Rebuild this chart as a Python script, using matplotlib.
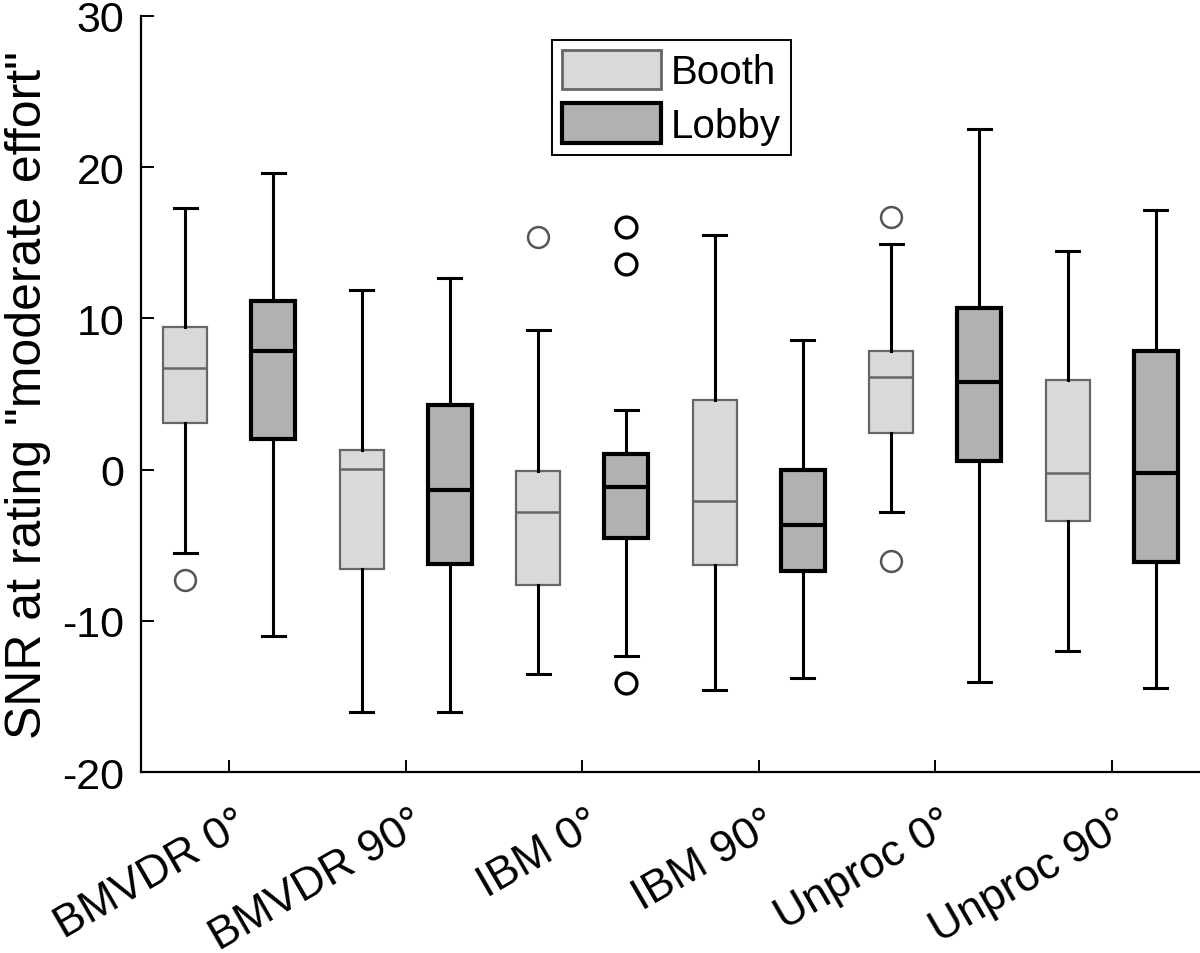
import matplotlib
matplotlib.use('Agg')
import matplotlib.pyplot as plt
import matplotlib.transforms as mtransforms
from matplotlib.patches import Patch

categories = ['BMVDR 0°', 'BMVDR 90°', 'IBM 0°', 'IBM 90°', 'Unproc 0°', 'Unproc 90°']
series = ['Booth', 'Lobby']

booth_whislo = [-5.5, -16.05, -13.55, -14.55, -2.8, -12.0]
booth_q1 = [3.1, -6.6, -7.65, -6.3, 2.4, -3.4]
booth_med = [6.7, 0.05, -2.8, -2.1, 6.15, -0.25]
booth_q3 = [9.4, 1.3, -0.1, 4.6, 7.85, 5.9]
booth_whishi = [17.3, 11.9, 9.25, 15.5, 14.9, 14.45]
booth_fliers = [[-7.3], [], [15.4], [], [16.7, -6.05], []]

lobby_whislo = [-11.0, -16.05, -12.3, -13.75, -14.05, -14.45]
lobby_q1 = [2.05, -6.25, -4.55, -6.7, 0.6, -6.1]
lobby_med = [7.85, -1.35, -1.15, -3.65, 5.8, -0.25]
lobby_q3 = [11.15, 4.25, 1.05, 0.0, 10.7, 7.85]
lobby_whishi = [19.6, 12.7, 3.95, 8.55, 22.55, 17.15]
lobby_fliers = [[], [], [16.05, 13.6, -14.1], [], [], []]

plt.rcParams['font.family'] = ['Liberation Sans', 'DejaVu Sans']
plt.rcParams['axes.unicode_minus'] = False

fig = plt.figure(figsize=(12, 9.54), dpi=100)
ax = fig.add_axes([0.1175, 0.1897, 0.8825, 0.7925])

def stats(lo, q1, med, q3, hi, fl):
    return [dict(whislo=a, q1=b, med=c, q3=d, whishi=e, fliers=f)
            for a, b, c, d, e, f in zip(lo, q1, med, q3, hi, fl)]

pos = list(range(1, len(categories) + 1))
off = 0.25
w = 0.25
cw = 0.13

booth_edge = '#666666'
booth_face = '#d9d9d9'
lobby_face = '#b1b1b1'

ax.bxp(stats(booth_whislo, booth_q1, booth_med, booth_q3, booth_whishi, booth_fliers),
       positions=[p - off for p in pos], widths=w, capwidths=cw, patch_artist=True,
       boxprops=dict(facecolor=booth_face, edgecolor=booth_edge, linewidth=1.6),
       medianprops=dict(color=booth_edge, linewidth=1.8),
       whiskerprops=dict(color='black', linewidth=2.2),
       capprops=dict(color='black', linewidth=2.2),
       flierprops=dict(marker='o', markerfacecolor='none', markeredgecolor='#555555',
                       markersize=15, markeredgewidth=1.8),
       manage_ticks=False, zorder=3)

ax.bxp(stats(lobby_whislo, lobby_q1, lobby_med, lobby_q3, lobby_whishi, lobby_fliers),
       positions=[p + off for p in pos], widths=w, capwidths=cw, patch_artist=True,
       boxprops=dict(facecolor=lobby_face, edgecolor='black', linewidth=3.0),
       medianprops=dict(color='black', linewidth=3.0),
       whiskerprops=dict(color='black', linewidth=2.2),
       capprops=dict(color='black', linewidth=2.2),
       flierprops=dict(marker='o', markerfacecolor='none', markeredgecolor='black',
                       markersize=15, markeredgewidth=2.4),
       manage_ticks=False, zorder=3)

ax.set_xlim(0.5, len(categories) + 0.5)
ax.set_ylim(-20, 30)
ax.set_yticks([-20, -10, 0, 10, 20, 30])
ax.set_xticks(pos)
ax.set_xticklabels(categories, rotation=30, ha='right', rotation_mode='anchor')

for s in ['top', 'right']:
    ax.spines[s].set_visible(False)
for s in ['left', 'bottom']:
    ax.spines[s].set_linewidth(1.6)

ax.tick_params(axis='both', direction='in', length=9, width=1.4, labelsize=31)
ax.tick_params(axis='x', labelsize=32, pad=22)
ax.tick_params(axis='y', pad=12)

shift = mtransforms.ScaledTranslation(5 / 100, 0, fig.dpi_scale_trans)
for lab in ax.get_xticklabels():
    lab.set_transform(lab.get_transform() + shift)

ax.set_ylabel('SNR at rating "moderate effort"', fontsize=36, labelpad=8)

handles = [Patch(facecolor=booth_face, edgecolor=booth_edge, linewidth=2.0),
           Patch(facecolor=lobby_face, edgecolor='black', linewidth=3.0)]
leg = fig.legend(handles, series, loc='upper left', bbox_to_anchor=(0.46, 0.957),
                 fontsize=29, frameon=True, fancybox=False, framealpha=1,
                 edgecolor='black', borderpad=0.25, handlelength=2.45,
                 handleheight=1.12, handletextpad=0.25, labelspacing=0.3,
                 borderaxespad=0)
leg.get_frame().set_linewidth(1.4)

fig.savefig('out.png', dpi=100)
